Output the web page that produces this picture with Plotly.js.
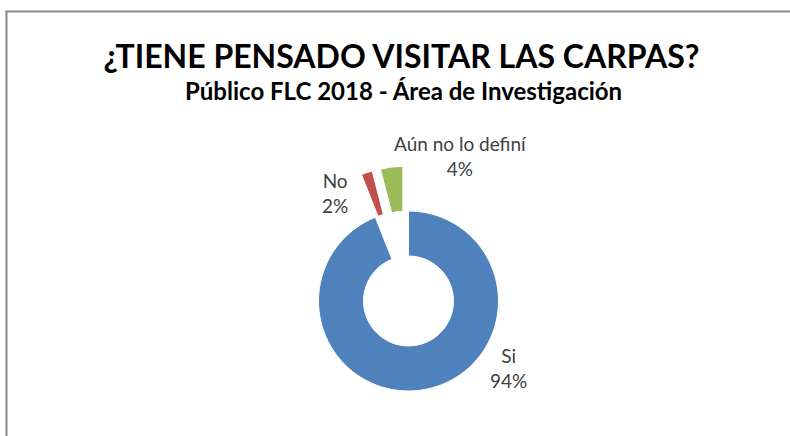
<!DOCTYPE html>
<html>
<head>
<meta charset="utf-8">
<script src="https://cdn.plot.ly/plotly-3.0.1.min.js"></script>
<style>html,body{margin:0;padding:0;background:#fff;overflow:hidden}#chart{width:790px;height:436px}</style>
</head>
<body>
<div id="chart"></div>
<script>
// Data
var labels = ["Si", "No", "Aún no lo definí"];
var values = [94, 2, 4];
var colors = ["#4F81BD", "#C0504D", "#9BBB59"];
var pulls = [0, 0.5, 0.5];
var titleText = "¿TIENE PENSADO VISITAR LAS CARPAS?";
var subtitleText = "Público FLC 2018 - Área de Investigación";

// Label positions (pixels) for the data labels
var labelPos = [[508, 368], [335, 193], [460, 156]];

var W = 790, H = 436;
var FONT = "Lato, 'Open Sans', sans-serif";

var trace = {
  type: "pie",
  labels: labels,
  values: values,
  sort: false,
  direction: "clockwise",
  rotation: 0,
  hole: 0.5,
  pull: pulls,
  marker: {colors: colors, line: {color: "#ffffff", width: 1}},
  textinfo: "none",
  hoverinfo: "label+percent",
  domain: {x: [(408.5 - 150) / W, (408.5 + 150) / W], y: [0, 270 / H]}
};

var annotations = labels.map(function (lab, i) {
  var total = values.reduce(function (a, b) { return a + b; }, 0);
  var pct = Math.round(values[i] / total * 100);
  return {
    text: lab + "<br>" + pct + "%",
    xref: "paper", yref: "paper",
    x: labelPos[i][0] / W, y: 1 - labelPos[i][1] / H,
    xanchor: "center", yanchor: "middle",
    showarrow: false,
    font: {family: FONT, size: 19, color: "#404040"}
  };
});
annotations.push({
  text: "<b>" + subtitleText + "</b>",
  xref: "paper", yref: "paper",
  x: 403.5 / W, y: 1 - 90 / H,
  xanchor: "center", yanchor: "middle",
  showarrow: false,
  font: {family: FONT, size: 24, color: "#000000"}
});

var layout = {
  width: W, height: H,
  margin: {l: 0, r: 0, t: 0, b: 0},
  paper_bgcolor: "#ffffff",
  showlegend: false,
  title: {
    text: "<b>" + titleText + "</b>",
    x: 401.5 / W, xanchor: "center",
    y: 1 - 56.5 / H, yanchor: "middle",
    yref: "container", xref: "container",
    font: {family: FONT, size: 32, color: "#000000"}
  },
  annotations: annotations,
  shapes: [
    {type: "line", xref: "paper", yref: "paper",
     x0: 5.5 / W, x1: 1, y0: 1 - 11.5 / H, y1: 1 - 11.5 / H,
     line: {color: "#8a8a8a", width: 2}},
    {type: "line", xref: "paper", yref: "paper",
     x0: 6.5 / W, x1: 6.5 / W, y0: 0, y1: 1 - 10.5 / H,
     line: {color: "#8a8a8a", width: 2}}
  ]
};

Plotly.newPlot("chart", [trace], layout, {displayModeBar: false, staticPlot: true});
</script>
</body>
</html>
